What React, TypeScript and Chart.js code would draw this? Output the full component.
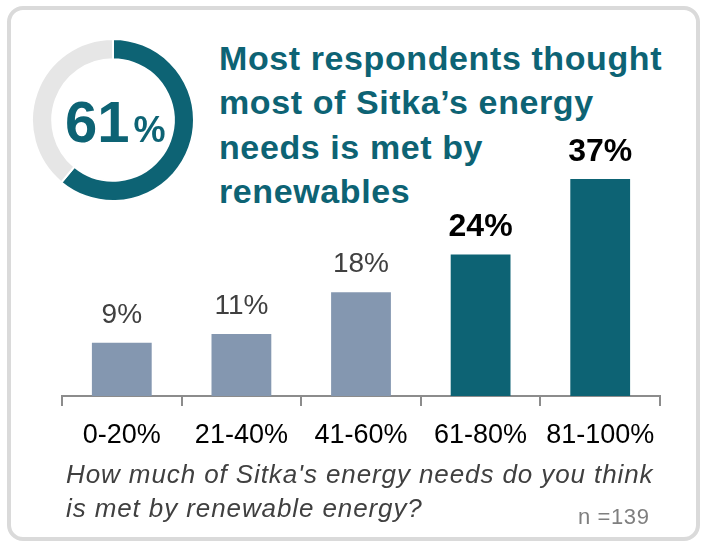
import React, { useEffect, useRef } from "react";
import { Chart, registerables } from "chart.js";

Chart.register(...registerables);

const categories = ["0-20%", "21-40%", "41-60%", "61-80%", "81-100%"];
const shares = [9.2, 10.7, 17.9, 24.4, 37.4];
const highlighted = [false, false, false, true, true];
const donutValues = [61, 39];
const donutLabel = "61";
const titleLines = ["Most respondents thought", "most of Sitka\u2019s energy", "needs is met by", "renewables"];
const questionLines = ["How much of Sitka's energy needs do you think", "is met by renewable energy?"];
const sampleNote = "n =139";

const TEAL = "#0d6374";
const SLATE = "#8497b0";
const AXIS = "#8c8c8c";
const FONT = "'Liberation Sans', Arial, sans-serif";

const barLabelPlugin = {
  id: "barLabels",
  afterDatasetsDraw(chart: any) {
    const ctx = chart.ctx;
    const meta = chart.getDatasetMeta(0);
    ctx.save();
    ctx.textAlign = "center";
    ctx.textBaseline = "alphabetic";
    meta.data.forEach((bar: any, i: number) => {
      const hi = highlighted[i];
      ctx.font = hi ? `bold 32px ${FONT}` : `28px ${FONT}`;
      ctx.fillStyle = hi ? "#000000" : "#404040";
      ctx.fillText(`${Math.round(shares[i])}%`, bar.x, bar.y - (hi ? 18 : 20));
    });
    ctx.restore();
  },
};

function BarChart() {
  const ref = useRef<HTMLCanvasElement>(null);
  useEffect(() => {
    const chart = new Chart(ref.current!, {
      type: "bar",
      data: {
        labels: categories,
        datasets: [
          {
            data: shares,
            backgroundColor: highlighted.map((h) => (h ? TEAL : SLATE)),
            barPercentage: 0.5,
            categoryPercentage: 1,
          },
        ],
      },
      options: {
        animation: false,
        responsive: false,
        maintainAspectRatio: false,
        layout: { padding: { left: 62, right: 42, top: 106, bottom: 89 } },
        plugins: { legend: { display: false }, tooltip: { enabled: false } },
        scales: {
          y: { display: false, min: 0, max: 50 },
          x: {
            afterFit: (scale: any) => {
              scale.height = 60;
            },
            grid: {
              display: true,
              drawOnChartArea: false,
              drawTicks: true,
              tickLength: 10,
              color: AXIS,
              lineWidth: 2,
              offset: true,
            },
            border: { display: true, color: AXIS, width: 2 },
            ticks: {
              color: "#000000",
              font: { family: FONT, size: 27 },
              padding: 13,
            },
          },
        },
      },
      plugins: [barLabelPlugin],
    });
    return () => chart.destroy();
  }, []);
  return (
    <canvas
      ref={ref}
      width={702}
      height={545}
      style={{ position: "absolute", left: 0, top: 0, width: 702, height: 545 }}
    />
  );
}

function Donut() {
  const ref = useRef<HTMLCanvasElement>(null);
  useEffect(() => {
    const chart = new Chart(ref.current!, {
      type: "doughnut",
      data: {
        labels: ["yes", "no"],
        datasets: [
          {
            data: donutValues,
            backgroundColor: [TEAL, "#e6e6e6"],
            borderColor: "#ffffff",
            borderWidth: 2,
          },
        ],
      },
      options: {
        animation: false,
        responsive: false,
        maintainAspectRatio: false,
        radius: 81,
        cutout: 63,
        layout: { padding: 0 },
        plugins: { legend: { display: false }, tooltip: { enabled: false } },
      } as any,
    });
    return () => chart.destroy();
  }, []);
  return (
    <canvas
      ref={ref}
      width={170}
      height={170}
      style={{ position: "absolute", left: 28, top: 35, width: 170, height: 170 }}
    />
  );
}

export default function App() {
  return (
    <div style={{ position: "absolute", left: 0, top: 0, width: 702, height: 545, background: "#fff", overflow: "hidden" }}>
      <div
        style={{
          position: "absolute",
          left: 7,
          top: 6,
          width: 693,
          height: 535,
          boxSizing: "border-box",
          border: "4px solid #dadada",
          borderRadius: 16,
        }}
      />
      <Donut />
      <div
        style={{
          position: "absolute",
          left: 65,
          top: 92.6,
          fontFamily: FONT,
          fontWeight: "bold",
          color: TEAL,
          fontSize: 58,
          lineHeight: "58px",
          whiteSpace: "nowrap",
        }}
      >
        {donutLabel}
        <span style={{ fontSize: 36, marginLeft: 4 }}>%</span>
      </div>
      <div
        style={{
          position: "absolute",
          left: 219,
          top: 35.7,
          fontFamily: FONT,
          fontWeight: "bold",
          color: TEAL,
          fontSize: 34,
          lineHeight: "44.5px",
          letterSpacing: "0.6px",
          whiteSpace: "nowrap",
        }}
      >
        {titleLines.map((l, i) => (
          <div key={i}>{l}</div>
        ))}
      </div>
      <BarChart />
      <div
        style={{
          position: "absolute",
          left: 66,
          top: 457,
          fontFamily: FONT,
          fontStyle: "italic",
          color: "#404040",
          fontSize: 26,
          lineHeight: "34.3px",
          letterSpacing: "0.9px",
          whiteSpace: "nowrap",
        }}
      >
        {questionLines.map((l, i) => (
          <div key={i}>{l}</div>
        ))}
      </div>
      <div
        style={{
          position: "absolute",
          left: 578,
          top: 507,
          fontFamily: FONT,
          color: "#7f7f7f",
          fontSize: 22,
          lineHeight: "20px",
          letterSpacing: "0.6px",
          whiteSpace: "nowrap",
        }}
      >
        {sampleNote}
      </div>
    </div>
  );
}
